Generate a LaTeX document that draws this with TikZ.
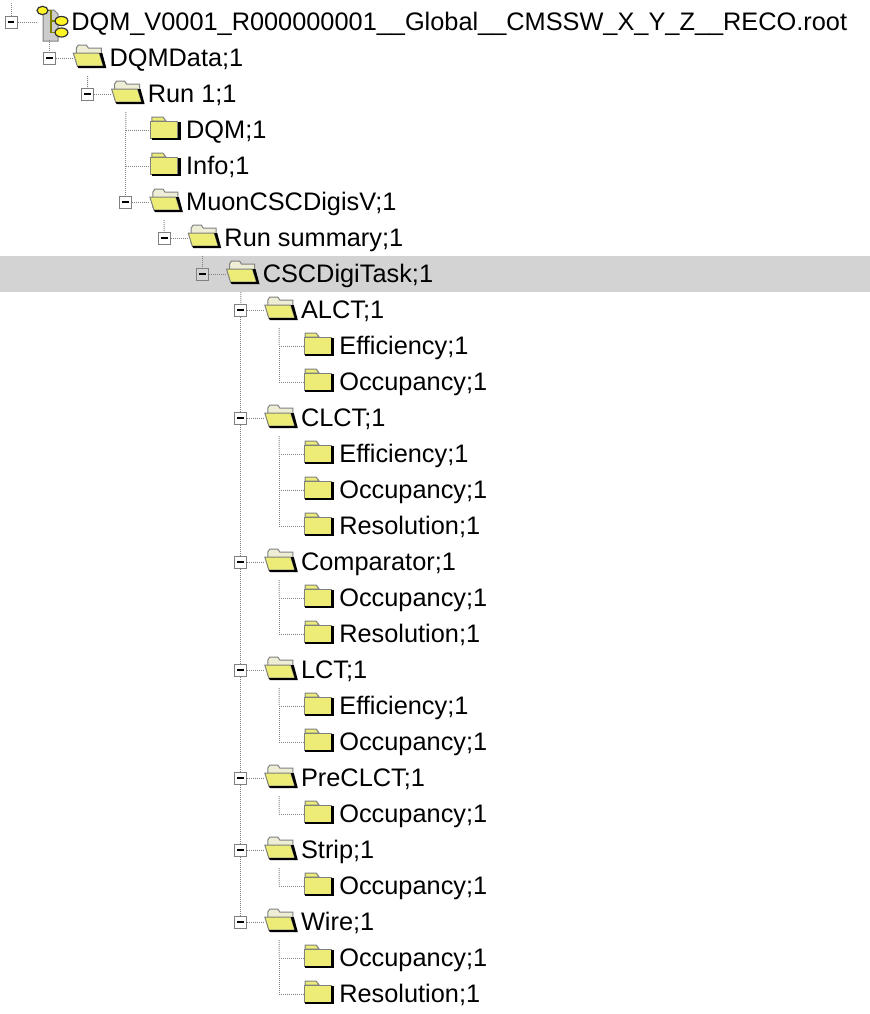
\documentclass[tikz,border=0pt]{standalone}
\usepackage{fontspec}
\setmainfont{Liberation Sans}
\usepackage{tikz}

\definecolor{rowgray}{RGB}{211,211,211}
\definecolor{linegray}{RGB}{128,128,128}
\definecolor{foldyellow}{RGB}{236,236,118}
\definecolor{foldback}{RGB}{238,238,214}
\definecolor{treeolive}{RGB}{128,128,0}

\tikzset{
	treeline/.style={linegray, line width=0.75pt, dash pattern=on 0.75pt off 0.75pt},
	togglebox/.style={draw=linegray, line width=0.75pt, minimum size=9pt, inner sep=0pt,
		path picture={\draw[black, line width=1.5pt] ([xshift=-2.6pt]path picture bounding box.center) -- ([xshift=2.6pt]path picture bounding box.center);}},
	itemlabel/.style={anchor=base west, inner sep=0pt, font=\fontsize{19}{22}\selectfont},
	pics/rootitem/.style={code={
		\node[togglebox] (-box) at (0,0) {};
		\coordinate (-icon) at (25,0);
		\coordinate (-down) at (38.3,18);
		\draw[treeline] (-box) -- (-icon);
		\filldraw[fill=gray!40, draw=gray, line width=0.75pt] (32,-12) -- (43,-12) -- (47,-8) -- (47,19) -- (32,19) -- cycle;
		\draw[treeolive, line width=1.4pt] (34,-11.5) -- (40,-11.5) -- (40,10.5) -- (46,10.5) (40,-1) -- (46,-1);
		\filldraw[fill=yellow!85!white, draw=black!80, line width=0.9pt] (31.5,-11.5) ellipse [x radius=4.1pt, y radius=3.1pt];
		\foreach \oy in {-1, 10.5}
			\filldraw[fill=yellow!85!white, draw=black!80, line width=0.9pt] (50.5,\oy) ellipse [x radius=4.8pt, y radius=3.4pt];
	}},
	pics/openitem/.style={code={
		\node[togglebox] (-box) at (0,0) {};
		\coordinate (-icon) at (24,0);
		\coordinate (-down) at (38.3,18);
		\draw[treeline] (-box) -- (-icon);
		\filldraw[fill=foldback, draw=linegray, line width=0.75pt] (27,5) -- (27,-10) -- (29,-13) -- (37,-13) -- (39,-10) -- (52,-10) -- (52,-4) -- cycle;
		\filldraw[fill=foldyellow, draw=linegray, line width=0.75pt] (24,-5) -- (50,-5) -- (54,8) -- (28,8) -- cycle;
		\fill[black] (50,-5) -- (53,-5) -- (57,10) -- (29,10) -- (28,8) -- (54,8) -- cycle;
	}},
	pics/leafitem/.style={code={
		\coordinate (-box) at (0,0);
		\coordinate (-icon) at (25,0);
		\draw[treeline] (-box) -- (-icon);
		\filldraw[fill=foldyellow, draw=linegray, line width=0.75pt] (26,-9) -- (26,-13) -- (37,-13) -- (40,-9) -- cycle;
		\filldraw[fill=foldyellow, draw=linegray, line width=0.75pt] (25,-9) rectangle (52,8);
		\fill[black] (52,-8) rectangle (55,10);
		\fill[black] (26,8) rectangle (55,10);
	}}
}

\begin{document}
\begin{tikzpicture}[x=0.75pt, y=-0.75pt]
\useasboundingbox (0,0) rectangle (870,1014);
\fill[rowgray] (0,256) rectangle (870,292);

\foreach \i/\lev/\kind/\lab [evaluate=\i as \ry using 22+36*(\i-1)] [evaluate=\lev as \cx using 11+38.3*\lev] in {
	1/0/rootitem/{DQM\_V0001\_R000000001\_\_Global\_\_CMSSW\_X\_Y\_Z\_\_RECO.root},
	2/1/openitem/{DQMData;1},
	3/2/openitem/{Run 1;1},
	4/3/leafitem/{DQM;1},
	5/3/leafitem/{Info;1},
	6/3/openitem/{MuonCSCDigisV;1},
	7/4/openitem/{Run summary;1},
	8/5/openitem/{CSCDigiTask;1},
	9/6/openitem/{ALCT;1},
	10/7/leafitem/{Efficiency;1},
	11/7/leafitem/{Occupancy;1},
	12/6/openitem/{CLCT;1},
	13/7/leafitem/{Efficiency;1},
	14/7/leafitem/{Occupancy;1},
	15/7/leafitem/{Resolution;1},
	16/6/openitem/{Comparator;1},
	17/7/leafitem/{Occupancy;1},
	18/7/leafitem/{Resolution;1},
	19/6/openitem/{LCT;1},
	20/7/leafitem/{Efficiency;1},
	21/7/leafitem/{Occupancy;1},
	22/6/openitem/{PreCLCT;1},
	23/7/leafitem/{Occupancy;1},
	24/6/openitem/{Strip;1},
	25/7/leafitem/{Occupancy;1},
	26/6/openitem/{Wire;1},
	27/7/leafitem/{Occupancy;1},
	28/7/leafitem/{Resolution;1}}
{
	\pic (p\i) at (\cx,\ry) {\kind};
	\node[itemlabel] (t\i) at (\cx+60,\ry+8.5) {\lab};
}

% vertical tree lines
\coordinate (roottop) at (11,3);
\draw[treeline] (roottop) -- (p1-box);
\foreach \a/\b in {p1-down/p2-box, p2-down/p3-box, p3-down/p4-box, p4-box/p5-box, p5-box/p6-box,
	p6-down/p7-box, p7-down/p8-box, p8-down/p9-box, p9-box/p12-box, p12-box/p16-box,
	p16-box/p19-box, p19-box/p22-box, p22-box/p24-box, p24-box/p26-box,
	p9-down/p10-box, p10-box/p11-box, p12-down/p13-box, p13-box/p14-box, p14-box/p15-box,
	p16-down/p17-box, p17-box/p18-box, p19-down/p20-box, p20-box/p21-box,
	p22-down/p23-box, p24-down/p25-box, p26-down/p27-box, p27-box/p28-box}
	\draw[treeline] (\a) -- (\b);
\end{tikzpicture}
\end{document}
